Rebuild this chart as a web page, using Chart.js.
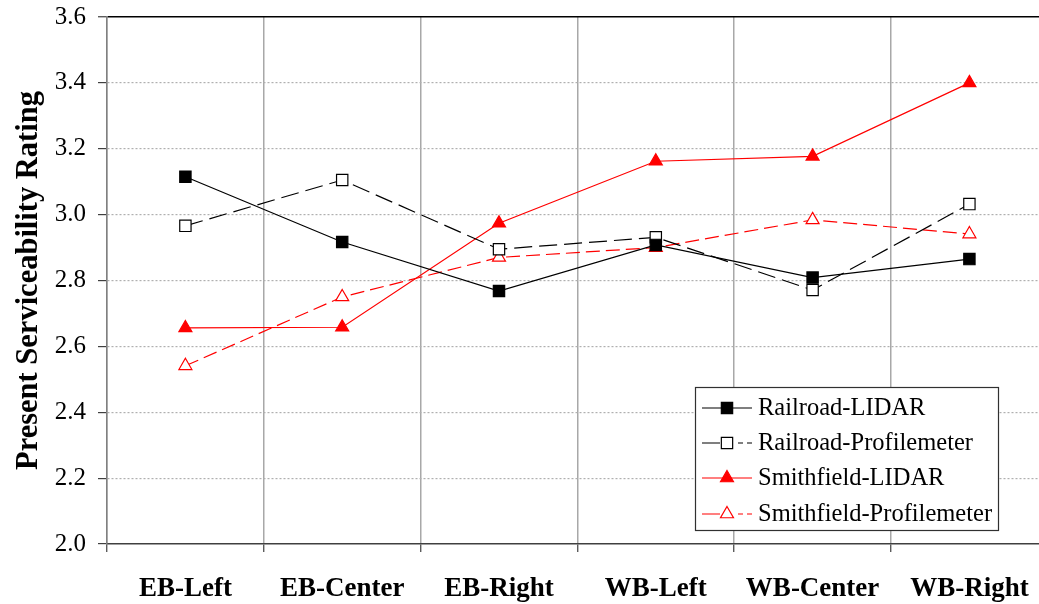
<!DOCTYPE html>
<html>
<head>
<meta charset="utf-8">
<script src="https://cdn.jsdelivr.net/npm/chart.js@4.4.1/dist/chart.umd.min.js"></script>
<style>
html,body{margin:0;padding:0;background:#fff;overflow:hidden;}
#wrap{width:1039px;height:604px;overflow:hidden;position:relative;}
canvas{display:block;}
</style>
</head>
<body>
<div id="wrap"><canvas id="c" width="1057" height="604"></canvas></div>
<script>
const categories = ['EB-Left', 'EB-Center', 'EB-Right', 'WB-Left', 'WB-Center', 'WB-Right'];
const railroadLidar = [3.115, 2.917, 2.768, 2.908, 2.809, 2.865];
const railroadProfilemeter = [2.966, 3.105, 2.895, 2.931, 2.771, 3.032];
const smithfieldLidar = [2.656, 2.658, 2.974, 3.162, 3.177, 3.400];
const smithfieldProfilemeter = [2.541, 2.750, 2.870, 2.900, 2.984, 2.941];
const yMin = 2.0, yMax = 3.6, yStep = 0.2;
const yTitle = 'Present Serviceability Rating';

const FONT = '"Liberation Serif", "Times New Roman", serif';

const legendPlugin = {
  id: 'boxLegend',
  afterDraw(chart) {
    const ctx = chart.ctx;
    const bx = 695, by = 387, bw = 303, bh = 143;
    ctx.save();
    ctx.fillStyle = '#fff';
    ctx.fillRect(bx, by, bw, bh);
    ctx.strokeStyle = '#303030';
    ctx.lineWidth = 1.2;
    ctx.strokeRect(bx + 0.5, by + 0.5, bw, bh);
    const rows = [408, 443, 478, 514];
    chart.data.datasets.forEach((ds, i) => {
      const y = rows[i];
      ctx.save();
      ctx.strokeStyle = ds.borderColor;
      ctx.lineWidth = ds.borderWidth;
      ctx.setLineDash(ds.borderDash && ds.borderDash.length ? [18, 18, 5, 4, 5] : []);
      ctx.beginPath();
      ctx.moveTo(702, y);
      ctx.lineTo(752, y);
      ctx.stroke();
      ctx.restore();
      ctx.save();
      ctx.fillStyle = ds.pointBackgroundColor;
      ctx.strokeStyle = ds.pointBorderColor;
      ctx.lineWidth = ds.pointBorderWidth;
      Chart.helpers.drawPoint(ctx, {pointStyle: ds.pointStyle, radius: ds.pointRadius, rotation: 0, borderWidth: ds.pointBorderWidth}, 727, y);
      ctx.restore();
      ctx.fillStyle = '#000';
      ctx.font = '24.5px ' + FONT;
      ctx.textBaseline = 'middle';
      ctx.textAlign = 'left';
      ctx.fillText(ds.label, 758, y + 1);
    });
    ctx.restore();
  }
};

function isVal(ctx, v) { return ctx.tick && Math.abs(ctx.tick.value - v) < 1e-6; }

new Chart(document.getElementById('c'), {
  type: 'line',
  data: {
    labels: categories,
    datasets: [
      {label: 'Railroad-LIDAR', data: railroadLidar, borderColor: '#000', borderWidth: 1.2,
       pointStyle: 'rect', pointRadius: 8, pointBackgroundColor: '#000', pointBorderColor: '#000', pointBorderWidth: 1.2, borderDash: []},
      {label: 'Railroad-Profilemeter', data: railroadProfilemeter, borderColor: '#000', borderWidth: 1.2, borderDash: [18, 7],
       pointStyle: 'rect', pointRadius: 8, pointBackgroundColor: '#fff', pointBorderColor: '#000', pointBorderWidth: 1.2},
      {label: 'Smithfield-LIDAR', data: smithfieldLidar, borderColor: '#ff0000', borderWidth: 1.2,
       pointStyle: 'triangle', pointRadius: 7.5, pointBackgroundColor: '#ff0000', pointBorderColor: '#ff0000', pointBorderWidth: 1.2, borderDash: []},
      {label: 'Smithfield-Profilemeter', data: smithfieldProfilemeter, borderColor: '#ff0000', borderWidth: 1.2, borderDash: [14, 6],
       pointStyle: 'triangle', pointRadius: 7.5, pointBackgroundColor: '#fff', pointBorderColor: '#ff0000', pointBorderWidth: 1.2}
    ]
  },
  options: {
    responsive: false,
    animation: false,
    tension: 0,
    layout: {padding: {top: 17, right: 4, left: 0, bottom: 0}},
    plugins: {legend: {display: false}, tooltip: {enabled: false}},
    scales: {
      x: {
        offset: true,
        grid: {offset: true, color: '#a8a8a8', lineWidth: 1.5, drawTicks: true, tickLength: 8, tickColor: '#404040', tickWidth: 1.2},
        border: {color: '#404040', width: 1.5},
        ticks: {color: '#000', font: {family: FONT, size: 27, weight: 'bold'}, padding: 21, maxRotation: 0, autoSkip: false},
        afterFit(s) { s.height = 60; s.paddingLeft = 0; s.paddingRight = 0; }
      },
      y: {
        min: yMin, max: yMax,
        ticks: {stepSize: yStep, color: '#000', font: {family: FONT, size: 25}, padding: 12,
                callback: v => Number(v).toFixed(1)},
        grid: {
          color: ctx => isVal(ctx, yMax) ? '#000' : (isVal(ctx, yMin) ? 'rgba(0,0,0,0)' : '#b0b0b0'),
          lineWidth: ctx => isVal(ctx, yMax) ? 1.5 : 1.2,
          tickLength: 9, tickColor: '#404040', tickWidth: 1.2
        },
        border: {color: '#808080', width: 1.5, dash: ctx => (ctx.tick && !isVal(ctx, yMax)) ? [2, 2] : []},
        title: {display: true, text: yTitle, color: '#000', font: {family: FONT, size: 30.5, weight: 'bold'}, padding: {top: 11, bottom: 0}},
        afterFit(s) { s.width = 107; s.paddingTop = 0; s.paddingBottom = 0; }
      }
    }
  },
  plugins: [legendPlugin]
});
</script>
</body>
</html>
